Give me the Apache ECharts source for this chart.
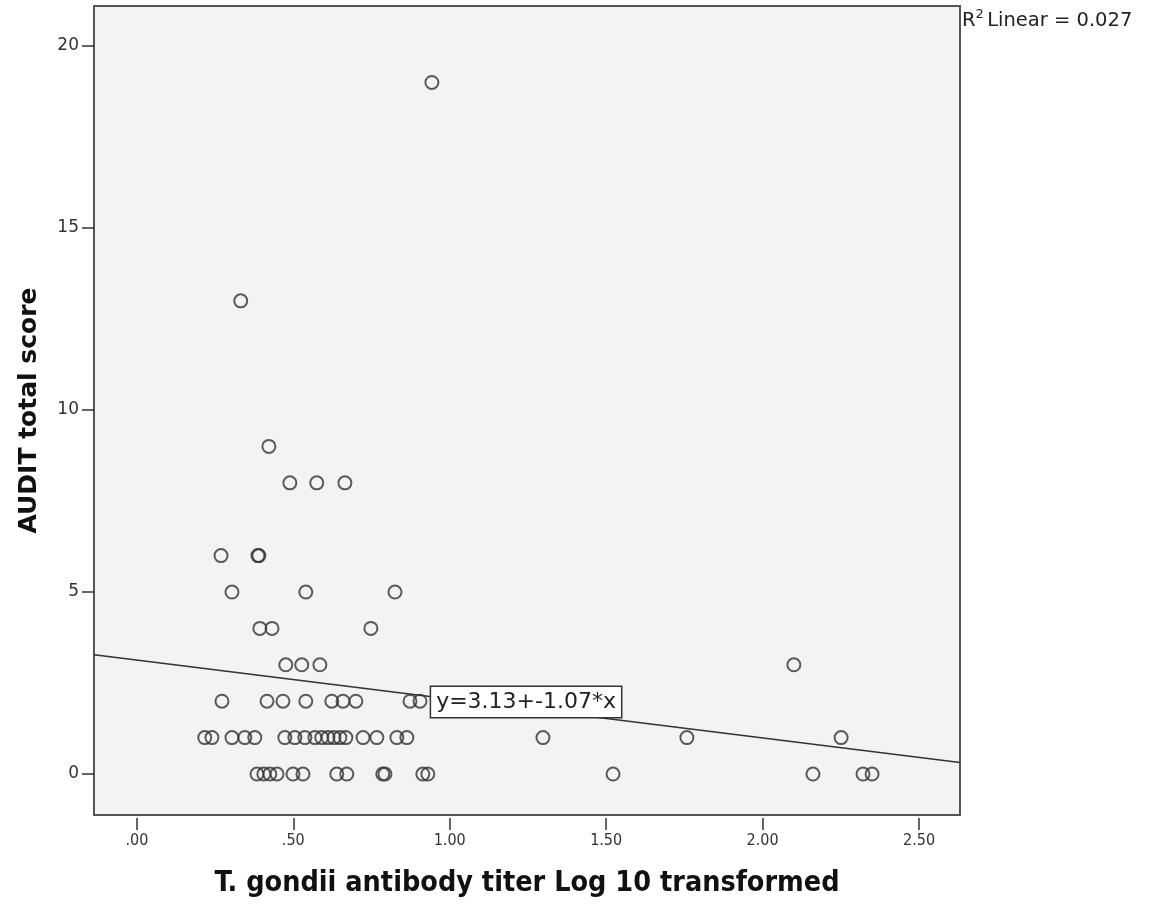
<!DOCTYPE html>
<html>
<head>
<meta charset="utf-8">
<script src="https://cdn.jsdelivr.net/npm/echarts@6/dist/echarts.min.js"></script>
<style>
  html, body { margin: 0; padding: 0; background: #fff; }
  #chart { width: 1159px; height: 905px; }
</style>
</head>
<body>
<div id="chart"></div>
<script>
// T. gondii titer (log10) vs AUDIT score
var titer = [
  0.943,
  0.332,
  0.422,
  0.489, 0.575, 0.665,
  0.269, 0.387, 0.390,
  0.304, 0.540, 0.825,
  0.393, 0.432, 0.748,
  0.476, 0.527, 0.585, 2.100,
  0.272, 0.416, 0.467, 0.540, 0.623, 0.659, 0.700, 0.873, 0.905,
  0.217, 0.240, 0.304, 0.345, 0.377, 0.473, 0.505, 0.537, 0.569, 0.591, 0.611,
  0.630, 0.649, 0.668, 0.723, 0.767, 0.831, 0.863, 1.298, 1.758, 2.251,
  0.384, 0.406, 0.425, 0.448, 0.499, 0.531, 0.639, 0.671, 0.786, 0.793, 0.914,
  0.930, 1.522, 2.161, 2.321, 2.350
];
var audit = [
  19,
  13,
  9,
  8, 8, 8,
  6, 6, 6,
  5, 5, 5,
  4, 4, 4,
  3, 3, 3, 3,
  2, 2, 2, 2, 2, 2, 2, 2, 2,
  1, 1, 1, 1, 1, 1, 1, 1, 1, 1, 1,
  1, 1, 1, 1, 1, 1, 1, 1, 1, 1,
  0, 0, 0, 0, 0, 0, 0, 0, 0, 0, 0,
  0, 0, 0, 0, 0
];
var xTicks = [0, 0.5, 1, 1.5, 2, 2.5];
var yTicks = [0, 5, 10, 15, 20];
var fitIntercept = 3.13;
var fitSlope = -1.07;
var rSquared = '0.027';

var xMin = -0.137, xMax = 2.631;
var yMin = -1.126, yMax = 21.1;

var points = titer.map(function (x, i) { return [x, audit[i]]; });
var fitLine = [xMin, xMax].map(function (x) { return [x, fitIntercept + fitSlope * x]; });

var chart = echarts.init(document.getElementById('chart'));

var option = {
  backgroundColor: '#fff',
  animation: false,
  grid: {
    left: 94, right: 199, top: 6, bottom: 90,
    show: true,
    backgroundColor: '#f3f3f3',
    borderColor: '#555',
    borderWidth: 2
  },
  xAxis: {
    type: 'value',
    min: xMin, max: xMax,
    offset: 3,
    axisLine: { show: false, onZero: false },
    splitLine: { show: false },
    axisTick: {
      show: true, inside: false, length: 12,
      customValues: xTicks,
      lineStyle: { color: '#333', width: 1.5 }
    },
    axisLabel: {
      customValues: xTicks,
      margin: 15,
      color: '#333',
      fontSize: 16,
      fontFamily: 'DejaVu Sans Condensed',
      formatter: function (v) {
        var s = v.toFixed(2);
        return s.charAt(0) === '0' ? s.slice(1) : s;
      }
    },
    name: 'T. gondii antibody titer Log 10 transformed',
    nameLocation: 'middle',
    nameGap: 51,
    nameTextStyle: {
      color: '#111',
      fontSize: 28.5,
      fontWeight: 'bold',
      fontFamily: 'DejaVu Sans Condensed'
    }
  },
  yAxis: {
    type: 'value',
    min: yMin, max: yMax,
    axisLine: { show: false, onZero: false },
    splitLine: { show: false },
    axisTick: {
      show: true, inside: false, length: 12,
      customValues: yTicks,
      lineStyle: { color: '#333', width: 1.5 }
    },
    axisLabel: {
      customValues: yTicks,
      margin: 15,
      color: '#333',
      fontSize: 17,
      fontFamily: 'DejaVu Sans'
    },
    name: 'AUDIT total score',
    nameLocation: 'middle',
    nameRotate: 90,
    nameGap: 52,
    nameTextStyle: {
      color: '#111',
      fontSize: 25,
      fontWeight: 'bold',
      fontFamily: 'DejaVu Sans'
    }
  },
  series: [
    {
      type: 'line',
      data: fitLine,
      symbol: 'none',
      lineStyle: { color: '#333', width: 1.5 },
      z: 2,
      markPoint: {
        symbol: 'rect',
        symbolSize: 0,
        data: [{ coord: [1.244, 1.98] }],
        label: {
          show: true,
          position: 'inside',
          formatter: 'y=' + fitIntercept.toFixed(2) + '+' + fitSlope.toFixed(2) + '*x',
          color: '#222',
          fontSize: 22,
          fontFamily: 'DejaVu Sans',
          backgroundColor: '#fff',
          borderColor: '#333',
          borderWidth: 1.5,
          padding: [4, 5, 4, 5]
        }
      }
    },
    {
      type: 'scatter',
      data: points,
      symbol: 'circle',
      symbolSize: 13,
      itemStyle: { color: 'rgba(0,0,0,0)', borderColor: '#333', borderWidth: 2 },
      z: 3
    }
  ],
  graphic: [
    {
      type: 'text',
      left: 962, top: 8,
      style: {
        text: '{b|R}{s|2} {b|Linear = ' + rSquared + '}',
        rich: {
          b: { fontSize: 19.5, fontFamily: 'DejaVu Sans', fill: '#222', padding: [6, 0, 0, 0] },
          s: { fontSize: 13, fontFamily: 'DejaVu Sans', fill: '#222', padding: [0, 0, 6, 0] }
        }
      }
    }
  ]
};

chart.setOption(option);
</script>
</body>
</html>
